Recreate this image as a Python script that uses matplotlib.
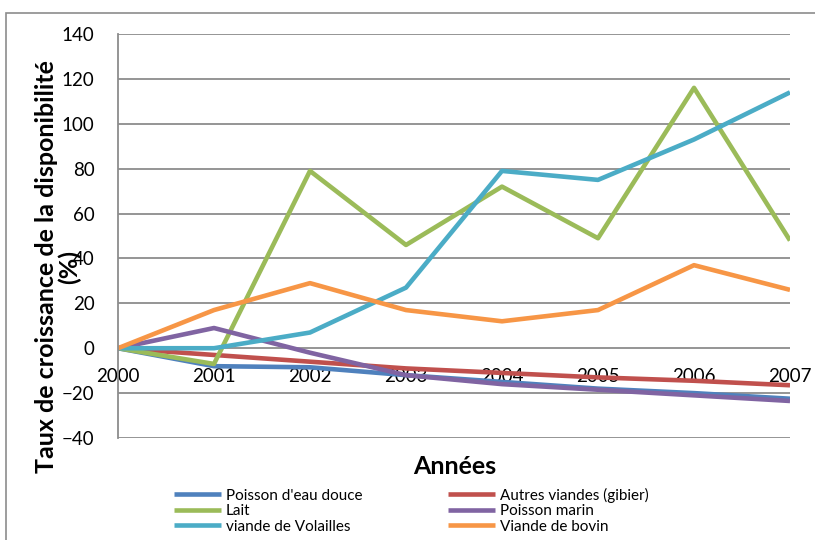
import matplotlib
matplotlib.use("Agg")
import matplotlib.pyplot as plt
from matplotlib.patches import Rectangle

years = ["2000", "2001", "2002", "2003", "2004", "2005", "2006", "2007"]
poisson_eau_douce = [0, -8, -8.5, -12, -15, -18, -20, -22.5]
autres_viandes = [0, -3, -6, -9, -11, -13, -14.5, -16.5]
lait = [0, -7, 79, 46, 72, 49, 116, 48]
poisson_marin = [0, 9, -2, -12, -16, -18.5, -21, -23.5]
volailles = [0, 0, 7, 27, 79, 75, 93, 114]
bovin = [0, 17, 29, 17, 12, 17, 37, 26]

series = [
    ("Poisson d'eau douce", poisson_eau_douce, "#4F81BD"),
    ("Autres viandes (gibier)", autres_viandes, "#C0504D"),
    ("Lait", lait, "#9BBB59"),
    ("Poisson marin", poisson_marin, "#8064A2"),
    ("viande de Volailles", volailles, "#4BACC6"),
    ("Viande de bovin", bovin, "#F79646"),
]

plt.rcParams['font.family'] = ['Lato', 'DejaVu Sans']

fig = plt.figure(figsize=(8.15, 5.4), dpi=100)
W, H = 815, 540
ax = fig.add_axes([118 / W, 1 - 438 / H, (790 - 118) / W, (438 - 34) / H])

x = list(range(len(years)))
for name, vals, col in series:
    ax.plot(x, vals, color=col, lw=3.3, label=name, solid_capstyle='butt')

ax.set_xlim(0, len(years) - 1)
ax.set_ylim(-40, 140)
ax.set_yticks(range(-40, 141, 20))
ax.grid(axis='y', color='#8c8c8c', lw=1.3)
ax.set_axisbelow(True)
for s in ['top', 'right']:
    ax.spines[s].set_visible(False)
ax.spines['left'].set_color('#8c8c8c')
ax.spines['left'].set_linewidth(1.3)
ax.spines['bottom'].set_position(('data', 0))
ax.spines['bottom'].set_visible(False)
ax.set_xticks(x)
ax.set_xticklabels(years)
ax.tick_params(axis='x', length=0, pad=14, labelsize=13.5)
ax.tick_params(axis='y', length=0, pad=17, labelsize=13.5)

fig.text(58 / W, 1 - 267 / H, "Taux de croissance de la disponibilité\n(%)",
         rotation=90, ha='center', va='center', fontsize=18, fontweight='bold',
         linespacing=1.0)
fig.text(455 / W, 1 - 467 / H, "Années", ha='center', va='center',
         fontsize=18, fontweight='bold')

handles, labels = ax.get_legend_handles_labels()
order = [0, 2, 4, 1, 3, 5]
leg = fig.legend([handles[i] for i in order], [labels[i] for i in order],
                 ncol=2, loc='upper left', bbox_to_anchor=(166 / W, 1 - 480 / H),
                 frameon=False, fontsize=11, handlelength=3.1, handletextpad=0.3,
                 columnspacing=5.6, labelspacing=0.1, borderpad=0.0)

fig.patches.append(Rectangle((6 / W, -0.1), 1.2, 1 - 13 / H + 0.1, transform=fig.transFigure,
                             fill=False, edgecolor='#8c8c8c', lw=1.2))

fig.savefig("out.png", dpi=100)
